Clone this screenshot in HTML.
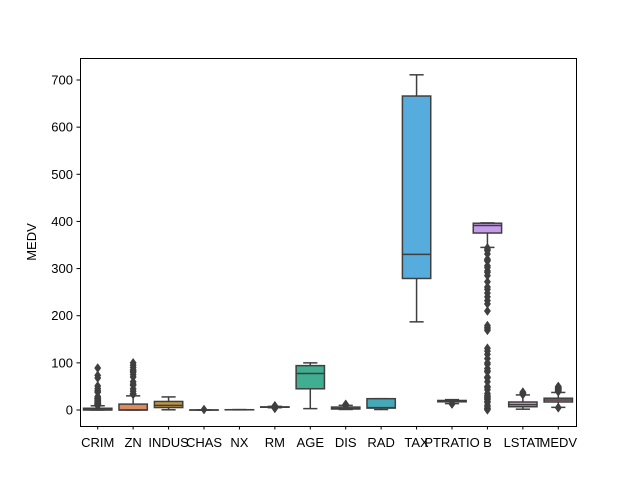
<!DOCTYPE html>
<html><head><meta charset="utf-8"><style>
body{margin:0;background:#fff}
svg text{font-family:"Liberation Sans","DejaVu Sans",sans-serif;font-size:13px;fill:#000}
</style></head><body>
<svg id="chart" width="640" height="480">
<rect x="0" y="0" width="640" height="480" fill="#fff"/>
<g id="plot"></g>
<rect x="80.5" y="58.5" width="496" height="368" fill="none" stroke="#000" stroke-width="1"/>
<text x="36" y="242" text-anchor="middle" transform="rotate(-90 36 242)">MEDV</text>
</svg>
<script>
const categories=["CRIM","ZN","INDUS","CHAS","NX","RM","AGE","DIS","RAD","TAX","PTRATIO","B","LSTAT","MEDV"];
const q1=[0.08,0,5.19,0,0.45,5.89,45,2.1,4,279,17.4,375.4,6.95,17];
const med=[0.26,0,9.69,0,0.54,6.21,77.5,3.2,5,330,19.05,391.4,11.36,21.2];
const q3=[3.68,12.5,18.1,0,0.62,6.62,94.1,6.19,24,666,20.2,396.2,16.96,25];
const wlo=[0.006,0,0.46,0,0.385,4.88,2.9,1.13,1,187,13.6,344.9,1.73,5.6];
const whi=[8.98,30,27.74,0,0.871,7.69,100,9.8,24,711,22,396.9,31.99,37.2];
const outliers=[
[9.2,9.9,10.8,11.1,11.6,12.0,12.8,13.5,14.3,15.0,15.8,16.8,18.5,19.6,20.1,22.0,23.6,24.4,25.0,25.9,28.7,37.7,38.4,41.5,45.7,51.1,67.9,73.5,88.98],
[33,34,35,40,45,52.5,55,60,70,75,80,82.5,85,90,95,100],
[],
[1],
[],
[3.56,3.86,4.14,4.37,4.52,4.65,7.7,7.8,7.9,8.0,8.1,8.3,8.4,8.5,8.7,8.78],
[],
[10.0,10.6,10.7,12.1],
[],
[],
[12.6,13.0],
[0.32,2.5,3.5,6.7,10,16,18,22,24,27,28,31,35,43,48,50,60,68,70,81,83,88,97,100,109,118,125,131,169,172,175,179,210,225,232,240,248,256,261,272,285,292,295,302,306,316,318,320,331,338,341,344],
[32.6,34.4,34.8,36.9,37.97],
[5,5,38.7,39.8,41.3,42.3,43.1,43.8,44,45.4,46,46.7,48.3,48.5,50]
];
const yTicks=[0,100,200,300,400,500,600,700];
const colors=["#e1837f","#dd8a5f","#c0983f","#a3a43c","#82ab3c","#3fae66","#41ad91","#42aaa5","#45aab8","#56acdd","#8aa0e8","#c69ce8","#e08ed7","#e58aab"];
const L=80,R=576,T=58,B=426;
const y=v=>410-v*(330/700);
const band=(R-L)/categories.length;
const x=i=>L+band*(i+0.5);
const g=document.getElementById('plot');
const NS="http://www.w3.org/2000/svg";
function mk(tag,attrs){const e=document.createElementNS(NS,tag);for(const k in attrs)e.setAttribute(k,attrs[k]);g.appendChild(e);return e;}
const dark="#3f3f3f";
yTicks.forEach(v=>{
 const t=mk('line',{x1:L-3.5,x2:L,y1:y(v),y2:y(v),stroke:"#000"});
 
 
 const l=mk('text',{x:L-7,y:y(v)+4.5,'text-anchor':'end'});l.textContent=v;
 
 
});
categories.forEach((c,i)=>{
 const cx=x(i),hw=band*0.4;
 const t=mk('line',{x1:cx,x2:cx,y1:B,y2:B+3.5,stroke:"#000"});
 
 
 const l=mk('text',{x:cx,y:B+21,'text-anchor':'middle'});l.textContent=c;
 
 
 const w1=mk('line',{x1:cx,x2:cx,y1:y(q1[i]),y2:y(wlo[i]),stroke:dark,'stroke-width':1.5});
 
 
 const w2=mk('line',{x1:cx,x2:cx,y1:y(q3[i]),y2:y(whi[i]),stroke:dark,'stroke-width':1.5});
 
 
 [wlo[i],whi[i]].forEach(v=>{
  const cap=mk('line',{x1:cx-hw/2,x2:cx+hw/2,y1:y(v),y2:y(v),stroke:dark,'stroke-width':1.5});
  
  
 });
 const top=y(q3[i]),bot=y(q1[i]);
 const bx=mk('rect',{x:cx-hw,y:top,width:hw*2,height:Math.max(bot-top,0.1),fill:colors[i],stroke:dark,'stroke-width':1.5});
 
 
 const m=mk('line',{x1:cx-hw,x2:cx+hw,y1:y(med[i]),y2:y(med[i]),stroke:dark,'stroke-width':1.5});
 
 
 outliers[i].forEach(v=>{
  const py=y(v),s=4.5,w=3.2;
  const d=mk('polygon',{points:`${cx},${py-s} ${cx+w},${py} ${cx},${py+s} ${cx-w},${py}`,fill:dark,stroke:dark,'stroke-width':0.5});
  
  
 });
});
</script>
</body></html>
